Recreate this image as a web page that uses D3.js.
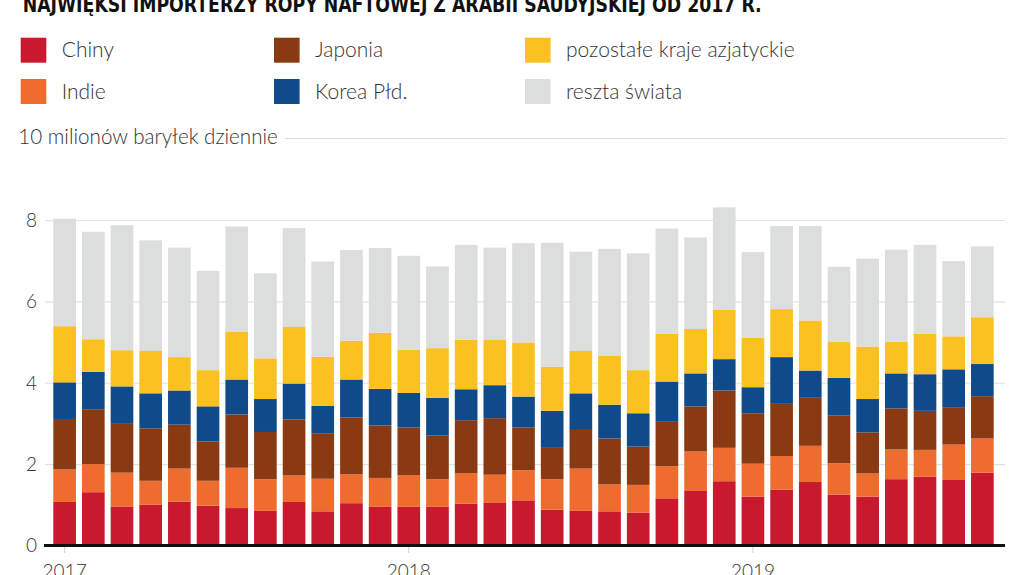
<!DOCTYPE html>
<html><head><meta charset="utf-8">
<script src="https://cdn.jsdelivr.net/npm/d3@7"></script>
<style>
body{margin:0;background:#fff;}
svg{display:block;}
text{fill:#333;}
</style></head>
<body>
<svg id="c" width="1024" height="575"></svg>
<script>
const months = ["2017-01","2017-02","2017-03","2017-04","2017-05","2017-06","2017-07","2017-08","2017-09","2017-10","2017-11","2017-12",
"2018-01","2018-02","2018-03","2018-04","2018-05","2018-06","2018-07","2018-08","2018-09","2018-10","2018-11","2018-12",
"2019-01","2019-02","2019-03","2019-04","2019-05","2019-06","2019-07","2019-08","2019-09"];
const seriesNames = ["Chiny","Indie","Japonia","Korea Płd.","pozostałe kraje azjatyckie","reszta świata"];
const chiny   = [1.07,1.31,0.96,1.00,1.08,0.98,0.92,0.85,1.07,0.84,1.04,0.95,0.95,0.95,1.03,1.06,1.11,0.88,0.85,0.84,0.81,1.16,1.34,1.58,1.20,1.37,1.56,1.25,1.20,1.63,1.69,1.61,1.79];
const indie   = [0.80,0.69,0.83,0.59,0.81,0.61,0.99,0.78,0.65,0.80,0.71,0.71,0.78,0.68,0.75,0.68,0.74,0.75,1.04,0.66,0.68,0.79,0.97,0.82,0.81,0.83,0.89,0.77,0.57,0.73,0.66,0.87,0.84];
const japonia = [1.24,1.35,1.20,1.29,1.08,0.97,1.31,1.16,1.38,1.12,1.40,1.29,1.17,1.07,1.30,1.39,1.05,0.77,0.95,1.13,0.94,1.09,1.11,1.41,1.24,1.30,1.18,1.18,1.01,1.01,0.96,0.92,1.04];
const korea   = [0.90,0.92,0.92,0.86,0.84,0.86,0.86,0.81,0.88,0.67,0.93,0.90,0.85,0.93,0.76,0.81,0.76,0.91,0.90,0.83,0.82,0.99,0.81,0.77,0.64,1.13,0.67,0.92,0.82,0.86,0.90,0.93,0.79];
const azja    = [1.38,0.80,0.89,1.04,0.82,0.89,1.18,1.00,1.39,1.21,0.95,1.38,1.06,1.22,1.22,1.11,1.33,1.08,1.04,1.20,1.06,1.18,1.09,1.22,1.22,1.18,1.23,0.88,1.29,0.78,0.99,0.81,1.15];
const reszta  = [2.64,2.64,3.07,2.72,2.69,2.44,2.58,2.09,2.43,2.34,2.23,2.08,2.31,2.01,2.33,2.27,2.44,3.05,2.44,2.63,2.87,2.58,2.25,2.51,2.10,2.04,2.32,1.85,2.16,2.26,2.19,1.85,1.74];
const yTicks = [0,2,4,6,8];
const yearTicks = ["2017-01","2018-01","2019-01"];
const colors = ["#C8192E","#EE6C2D","#8A3A12","#0F4A8A","#FBC120","#DCDDDD"];

const svg = d3.select("#c");
const FONT = "'Source Sans Pro', Lato, 'Open Sans', sans-serif";

const table = months.map((m,i)=>({m, Chiny:chiny[i], Indie:indie[i], Japonia:japonia[i], "Korea Płd.":korea[i], "pozostałe kraje azjatyckie":azja[i], "reszta świata":reszta[i]}));
const stack = d3.stack().keys(seriesNames)(table);

const x = d3.scaleBand().domain(months).range([50.3, 996.7]).paddingInner(0.21).paddingOuter(0.105);
const y = d3.scaleLinear().domain([0,8]).range([545.5, 220]);

// title
svg.append("text").attr("x",22.7).attr("y",12)
  .attr("font-family","'Liberation Sans Narrow','DejaVu Sans Condensed',sans-serif")
  .attr("font-weight","bold").attr("font-size",21)
  .attr("textLength",739).attr("lengthAdjust","spacingAndGlyphs")
  .style("fill","#111")
  .text("NAJWIĘKSI IMPORTERZY ROPY NAFTOWEJ Z ARABII SAUDYJSKIEJ OD 2017 R.");

// legend
const legX = [20.7, 274, 525];
const legY = [37.7, 79];
seriesNames.forEach((s,i)=>{
  const col = Math.floor(i/2), row = i%2;
  const g = svg.append("g");
  g.append("rect").attr("x",legX[col]).attr("y",legY[row]).attr("width",25.6).attr("height",25).attr("fill",colors[i]);
  g.append("text").attr("x",legX[col]+41).attr("y",legY[row]+19.5)
    .attr("font-family",FONT).attr("font-weight",300).attr("font-size",21).text(s);
});

// unit label + line
svg.append("text").attr("x",18.3).attr("y",144).attr("font-family",FONT).attr("font-weight",300)
  .attr("font-size",20.6).text("10 milionów baryłek dziennie");
svg.append("line").attr("x1",285).attr("x2",1005).attr("y1",138.5).attr("y2",138.5)
  .attr("stroke","#dcdcdc").attr("stroke-width",1.2);

// y axis with gridlines
const yAxis = svg.append("g").attr("transform","translate(45,0)")
  .call(d3.axisLeft(y).tickValues(yTicks).tickSize(-960).tickPadding(8).tickFormat(d3.format("d")));
yAxis.select(".domain").remove();
yAxis.selectAll(".tick line").attr("stroke","#e2e2e2").attr("stroke-width",1.2);
yAxis.selectAll(".tick text").attr("font-family",FONT).attr("font-size",19).attr("font-weight",300)
  .style("fill","#333").attr("dy","0.34em");

// bars
svg.append("g").selectAll("g").data(stack).join("g").attr("fill",(d,i)=>colors[i])
  .selectAll("rect").data(d=>d).join("rect")
  .attr("x",d=>x(d.data.m)).attr("width",x.bandwidth())
  .attr("y",d=>y(d[1])).attr("height",d=>y(d[0])-y(d[1]));

// baseline
svg.append("line").attr("x1",44).attr("x2",1005).attr("y1",y(0)).attr("y2",y(0))
  .attr("stroke","#111").attr("stroke-width",3);

// x axis
const xAxis = svg.append("g").attr("transform","translate(0,547)")
  .call(d3.axisBottom(x).tickValues(yearTicks).tickSize(6).tickPadding(12).tickFormat(d=>d.slice(0,4)));
xAxis.select(".domain").remove();
xAxis.selectAll(".tick line").attr("stroke","#cfcfcf");
xAxis.selectAll(".tick text").attr("font-family",FONT).attr("font-size",19).attr("font-weight",300).style("fill","#333");
</script>
</body></html>
